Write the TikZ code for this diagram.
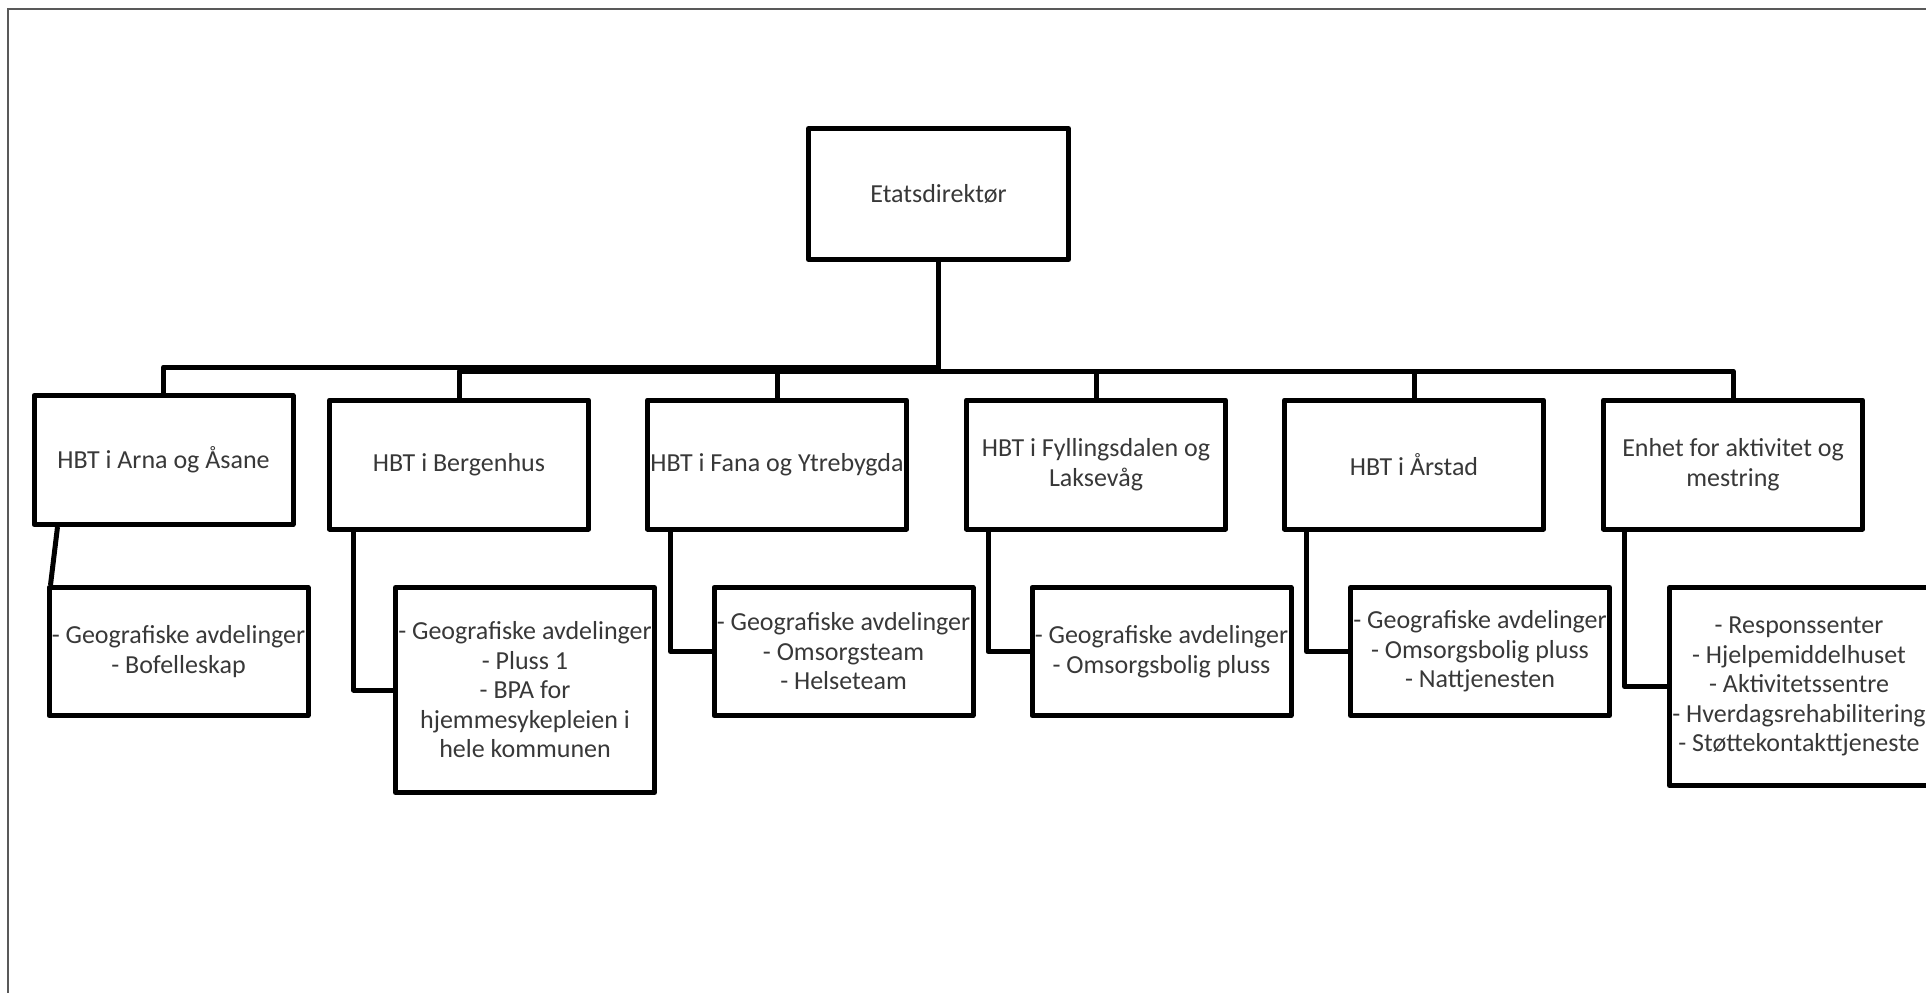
\documentclass[tikz,border=0pt]{standalone}
\usepackage{fontspec}
\setmainfont{Carlito}
\usetikzlibrary{calc}
\begin{document}
\begin{tikzpicture}[x=0.5pt,y=-0.5pt,
  box/.style={draw, line width=2.5pt, line join=round, rectangle, inner sep=0pt,
    minimum width=129.5pt, align=center, text=black!78,
    font=\fontsize{13}{14.75}\selectfont},
  topbox/.style={box, minimum height=64.5pt},
  subbox/.style={box, minimum height=64pt},
  conn/.style={line width=2.5pt, line join=round},
  frame/.style={draw=black!65, line width=0.75pt}]
\useasboundingbox (0,0) rectangle (1926,993);
\clip (0,0) rectangle (1926,993);
% outer frame (top and left edges visible)
\draw[frame] (1926,9) -- (8,9) -- (8,993);

% nodes
\node[box, minimum width=130pt, minimum height=65.5pt] (etat) at (938.5,194) {Etatsdirektør};

\node[topbox] (arna) at (163.5,460) {HBT i Arna og Åsane};
\node[topbox] (berg) at (459,464.5) {HBT i Bergenhus};
\node[topbox] (fana) at (777,464.5) {HBT i Fana og Ytrebygda};
\node[topbox] (fyll) at (1096,464.5) {HBT i Fyllingsdalen og\\Laksevåg};
\node[topbox] (arst) at (1414,464.5) {HBT i Årstad};
\node[topbox] (enh) at (1733,464.5) {Enhet for aktivitet og\\mestring};

\node[subbox] (arnac) at (178.5,651.5) {- Geografiske avdelinger\\- Bofelleskap};
\node[subbox, minimum height=102.5pt] (bergc) at (525,690) {- Geografiske avdelinger\\- Pluss 1\\- BPA for\\hjemmesykepleien i\\hele kommunen};
\node[subbox] (fanac) at (843.5,651.5) {- Geografiske avdelinger\\- Omsorgsteam\\- Helseteam};
\node[subbox] (fyllc) at (1161.5,651.5) {- Geografiske avdelinger\\- Omsorgsbolig pluss};
\node[subbox] (arstc) at (1480,651.5) {- Geografiske avdelinger\\- Omsorgsbolig pluss\\- Nattjenesten};
\node[subbox, minimum height=99pt] (enhc) at (1799,686.5) {- Responssenter\\- Hjelpemiddelhuset\\- Aktivitetssentre\\- Hverdagsrehabilitering\\- Støttekontakttjeneste};

% bus coordinates
\coordinate (busL) at (938.5,367);
\coordinate (busR) at (938.5,371);

% top-level connectors
\draw[conn] (etat.south) -- (busL) -| (arna.north);
\draw[conn] (etat.south) -- (busR) -| (berg.north);
\draw[conn] (busR) -| (fana.north);
\draw[conn] (busR) -| (fyll.north);
\draw[conn] (busR) -| (arst.north);
\draw[conn] (busR) -| (enh.north);

% sub connectors
\draw[conn] ($(arna.south west)+(26,0)$) -- ($(arnac.north west)+(4,0)$);
\draw[conn] ($(berg.south west)+(26.5,0)$) |- (bergc.west);
\draw[conn] ($(fana.south west)+(25.5,0)$) |- (fanac.west);
\draw[conn] ($(fyll.south west)+(24,0)$) |- (fyllc.west);
\draw[conn] ($(arst.south west)+(24.5,0)$) |- (arstc.west);
\draw[conn] ($(enh.south west)+(23.5,0)$) |- (enhc.west);
\end{tikzpicture}
\end{document}
